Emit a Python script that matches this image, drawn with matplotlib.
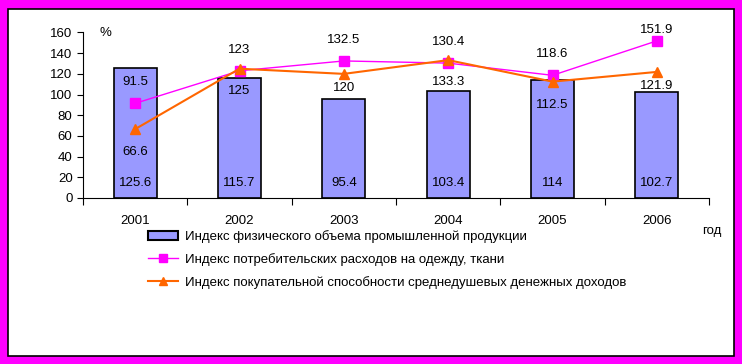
import matplotlib
matplotlib.use("Agg")
import matplotlib.pyplot as plt
from matplotlib.patches import Rectangle
from matplotlib.lines import Line2D
from matplotlib import font_manager

names = {f.name for f in font_manager.fontManager.ttflist}
fam = ['Liberation Sans Narrow', 'Liberation Sans', 'DejaVu Sans'] if 'Liberation Sans Narrow' in names else ['Liberation Sans', 'DejaVu Sans']
plt.rcParams['font.family'] = fam

years = ['2001', '2002', '2003', '2004', '2005', '2006']
industrial = [125.6, 115.7, 95.4, 103.4, 114, 102.7]
clothing = [91.5, 123, 132.5, 130.4, 118.6, 151.9]
purchasing = [66.6, 125, 120, 133.3, 112.5, 121.9]
industrial_labels = ['125.6', '115.7', '95.4', '103.4', '114', '102.7']
clothing_labels = ['91.5', '123', '132.5', '130.4', '118.6', '151.9']
purchasing_labels = ['66.6', '125', '120', '133.3', '112.5', '121.9']
legend_labels = ['Индекс физического объема промышленной продукции',
                 'Индекс потребительских расходов на одежду, ткани',
                 'Индекс покупательной способности среднедушевых денежных доходов']

W, H = 742, 364
fig = plt.figure(figsize=(W/100, H/100), dpi=100)
fig.patch.set_facecolor('#FF00FF')
# inner white panel with black border
fig.add_artist(Rectangle((8/W, 8/H), (734-8)/W, (355-8)/H, transform=fig.transFigure,
                         facecolor='white', edgecolor='black', lw=1.2, zorder=-5))

ax = fig.add_axes([83/W, 1-198/H, (709-83)/W, (198-32.5)/H])
ax.set_facecolor('none')
ax.set_zorder(2)
x = list(range(len(years)))
ax.bar(x, industrial, width=0.41, color='#9999FF', edgecolor='black', lw=1.2, zorder=2)
ax.plot(x, clothing, color='#FF00FF', lw=1, marker='s', ms=7, zorder=3)
ax.plot(x, purchasing, color='#FF6600', lw=1.5, marker='^', ms=7, zorder=3)

fs = 9.5
pink_off = [21, 21, 21, 21, 21, 11]
orange_off = [-23, -22, -14, -22, -23, -14]
for i in x:
    ax.annotate(industrial_labels[i], (i, 0), xytext=(0, 15), textcoords='offset pixels',
                ha='center', va='center', fontsize=fs, zorder=4)
    ax.annotate(clothing_labels[i], (i, clothing[i]), xytext=(0, pink_off[i]), textcoords='offset pixels',
                ha='center', va='center', fontsize=fs, zorder=4)
    ax.annotate(purchasing_labels[i], (i, purchasing[i]), xytext=(0, orange_off[i]), textcoords='offset pixels',
                ha='center', va='center', fontsize=fs, zorder=4)

ax.set_xlim(-0.5, len(years)-0.5)
ax.set_ylim(0, 160)
ax.set_yticks(range(0, 161, 20))
ax.set_xticks([i-0.5 for i in range(len(years)+1)])
ax.set_xticklabels([])
ax.set_xticks(x, minor=True)
ax.set_xticklabels(years, minor=True, fontsize=fs)
ax.tick_params(axis='x', which='minor', length=0, pad=12)
ax.tick_params(axis='x', which='major', length=5, direction='out')
ax.tick_params(axis='y', length=4, direction='out', labelsize=fs)
for s in ['top', 'right']:
    ax.spines[s].set_visible(False)
fig.text(105/W, 1-33/H, '%', fontsize=fs, ha='center', va='center')
fig.text(712/W, 1-231/H, 'год', fontsize=fs, ha='center', va='center')

handles = [Rectangle((0, 0), 1, 1, facecolor='#9999FF', edgecolor='black', lw=1.5),
           Line2D([], [], color='#FF00FF', lw=1, marker='s', ms=6),
           Line2D([], [], color='#FF6600', lw=1.5, marker='^', ms=6)]
fig.legend(handles, legend_labels, loc='upper left', bbox_to_anchor=(148/W, 1-230/H),
           frameon=False, fontsize=fs, handlelength=2.3, handletextpad=0.5, labelspacing=0.75,
           borderpad=0, borderaxespad=0)

fig.savefig('out.png', dpi=100, facecolor=fig.get_facecolor())
